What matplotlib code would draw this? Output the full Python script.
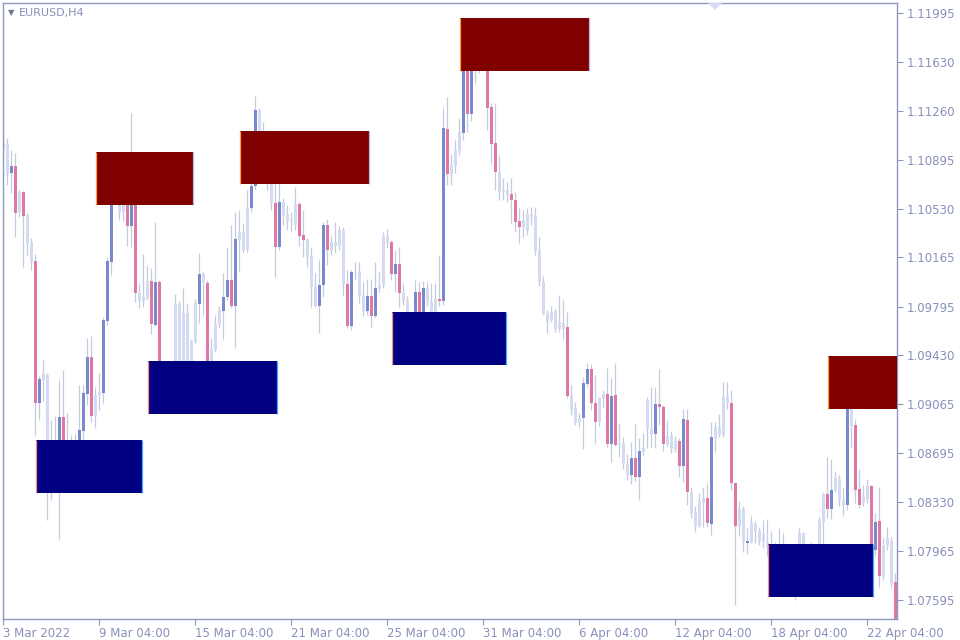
import matplotlib
matplotlib.use("Agg")
import matplotlib.pyplot as plt
import numpy as np
from matplotlib.patches import Rectangle

# EURUSD H4 candles (oldest first)
opens = [
    1.10978, 1.11015, 1.10798, 1.10850, 1.10498, 1.10655, 1.10483, 1.10280, 1.10138, 1.09073,
    1.09245, 1.09283, 1.08683, 1.08608, 1.08683, 1.08968, 1.08683, 1.08758, 1.08683, 1.08735,
    1.08863, 1.09140, 1.09418, 1.08975, 1.09133, 1.09148, 1.09688, 1.10130, 1.10633, 1.10745,
    1.10505, 1.10670, 1.10400, 1.10783, 1.09898, 1.09838, 1.09860, 1.09988, 1.09658, 1.09980,
    1.09335, 1.09208, 1.09260, 1.09305, 1.09815, 1.09358, 1.09748, 1.09335, 1.09530, 1.09815,
    1.10040, 1.09973, 1.09335, 1.09470, 1.09665, 1.09763, 1.09868, 1.09995, 1.09800, 1.10295,
    1.10355, 1.10220, 1.10535, 1.10700, 1.11270, 1.11045, 1.10858, 1.10783, 1.10573, 1.10243,
    1.10580, 1.10490, 1.10438, 1.10408, 1.10565, 1.10333, 1.10303, 1.10175, 1.09943, 1.09800,
    1.09958, 1.10408, 1.10220, 1.10280, 1.10250, 1.10370, 1.09965, 1.09650, 1.10055, 1.10055,
    1.09883, 1.09763, 1.09875, 1.09725, 1.09928, 1.09958, 1.10318, 1.10280, 1.10040, 1.10115,
    1.09898, 1.09838, 1.09710, 1.09680, 1.09905, 1.09695, 1.09935, 1.09830, 1.09710, 1.09853,
    1.09838, 1.11128, 1.10790, 1.10850, 1.10963, 1.11098, 1.11758, 1.11240, 1.11720, 1.11645,
    1.11660, 1.11630, 1.11293, 1.11023, 1.10805, 1.10655, 1.10670, 1.10640, 1.10595, 1.10438,
    1.10393, 1.10370, 1.10490, 1.10475, 1.10220, 1.09980, 1.09740, 1.09695, 1.09763, 1.09628,
    1.09673, 1.09643, 1.09133, 1.09035, 1.08930, 1.08960, 1.09215, 1.09328, 1.09073, 1.08930,
    1.09110, 1.09140, 1.08765, 1.09133, 1.08758, 1.08765, 1.08615, 1.08533, 1.08660, 1.08518,
    1.08705, 1.08878, 1.08878, 1.08840, 1.09065, 1.09043, 1.08765, 1.08825, 1.08728, 1.08788,
    1.08600, 1.08945, 1.08405, 1.08255, 1.08150, 1.08323, 1.08360, 1.08165, 1.08810, 1.08893,
    1.08833, 1.09118, 1.09073, 1.08473, 1.08150, 1.08278, 1.08023, 1.08030, 1.08165, 1.08113,
    1.08030, 1.08030, 1.07993, 1.07933, 1.07985, 1.07970, 1.07925, 1.07895, 1.07858, 1.07820,
    1.08098, 1.07970, 1.07925, 1.07895, 1.07955, 1.08180, 1.08390, 1.08278, 1.08420, 1.08503,
    1.08353, 1.08308, 1.09155, 1.08908, 1.08428, 1.08330, 1.08353, 1.08450, 1.07970, 1.08188,
    1.07775, 1.08000, 1.08038, 1.07730,
]
highs = [
    1.11068, 1.11060, 1.10970, 1.10948, 1.10670, 1.10663, 1.10498, 1.10310, 1.10190, 1.09275,
    1.09395, 1.09298, 1.08945, 1.08975, 1.09245, 1.09320, 1.08998, 1.08833, 1.08840, 1.09208,
    1.09208, 1.09560, 1.09575, 1.09193, 1.09298, 1.09718, 1.10168, 1.10670, 1.10820, 1.10783,
    1.10708, 1.10708, 1.11248, 1.10820, 1.09973, 1.10190, 1.10100, 1.10085, 1.10430, 1.09995,
    1.09380, 1.09335, 1.09365, 1.09890, 1.09838, 1.09935, 1.09823, 1.09553, 1.09853, 1.10198,
    1.10055, 1.09995, 1.09560, 1.09733, 1.09800, 1.10048, 1.10243, 1.10408, 1.10505, 1.10520,
    1.10423, 1.10670, 1.10783, 1.11375, 1.11285, 1.11180, 1.10970, 1.10820, 1.10745, 1.10760,
    1.10610, 1.10558, 1.10505, 1.10693, 1.10580, 1.10520, 1.10310, 1.10243, 1.10048, 1.10145,
    1.10430, 1.10453, 1.10325, 1.10430, 1.10400, 1.10393, 1.10070, 1.10070, 1.10130, 1.10130,
    1.09980, 1.10003, 1.10003, 1.10130, 1.10055, 1.10355, 1.10378, 1.10295, 1.10220, 1.10243,
    1.09973, 1.09875, 1.09740, 1.09995, 1.09980, 1.09988, 1.09980, 1.09973, 1.09973, 1.10183,
    1.11285, 1.11368, 1.10940, 1.11045, 1.11210, 1.11810, 1.11810, 1.11833, 1.11870, 1.11795,
    1.11758, 1.11720, 1.11323, 1.11323, 1.10933, 1.10760, 1.10730, 1.10760, 1.10655, 1.10535,
    1.10520, 1.10535, 1.10543, 1.10543, 1.10318, 1.10025, 1.09770, 1.09800, 1.09778, 1.09883,
    1.09845, 1.09755, 1.09208, 1.09080, 1.08998, 1.09268, 1.09373, 1.09365, 1.09283, 1.09118,
    1.09170, 1.09335, 1.09260, 1.09373, 1.08915, 1.08818, 1.08690, 1.08780, 1.08915, 1.08810,
    1.08848, 1.09118, 1.09193, 1.09193, 1.09328, 1.09058, 1.08945, 1.08863, 1.08825, 1.08810,
    1.09028, 1.09028, 1.08443, 1.08300, 1.08398, 1.08443, 1.08473, 1.08930, 1.08930, 1.08990,
    1.09230, 1.09230, 1.09170, 1.08480, 1.08338, 1.08300, 1.08135, 1.08225, 1.08188, 1.08143,
    1.08195, 1.08203, 1.08113, 1.08030, 1.08135, 1.08098, 1.08008, 1.07985, 1.07955, 1.08135,
    1.08105, 1.08008, 1.08030, 1.07985, 1.08218, 1.08405, 1.08668, 1.08653, 1.08563, 1.08533,
    1.08435, 1.09283, 1.09305, 1.08953, 1.08578, 1.08458, 1.08503, 1.08458, 1.08248, 1.08443,
    1.08060, 1.08143, 1.08068, 1.07798,
]
lows = [
    1.10903, 1.10708, 1.10648, 1.10318, 1.10468, 1.10093, 1.10183, 1.10070, 1.08833, 1.08945,
    1.09088, 1.08195, 1.08345, 1.08495, 1.08053, 1.08570, 1.08533, 1.08510, 1.08570, 1.08683,
    1.08758, 1.09058, 1.08930, 1.08885, 1.09020, 1.09073, 1.09658, 1.10033, 1.10595, 1.10445,
    1.10438, 1.10250, 1.10243, 1.09830, 1.09785, 1.09793, 1.09845, 1.09590, 1.09650, 1.09305,
    1.09133, 1.09095, 1.09170, 1.09260, 1.09305, 1.09283, 1.09275, 1.09305, 1.09523, 1.09673,
    1.09733, 1.09283, 1.09290, 1.09455, 1.09635, 1.09553, 1.09845, 1.09785, 1.09485, 1.10055,
    1.10205, 1.10205, 1.10505, 1.10670, 1.10895, 1.10783, 1.10670, 1.10520, 1.10018, 1.10220,
    1.10408, 1.10370, 1.10355, 1.10370, 1.10250, 1.10168, 1.10093, 1.09793, 1.09793, 1.09598,
    1.09868, 1.10108, 1.10183, 1.10198, 1.10220, 1.09875, 1.09635, 1.09620, 1.09995, 1.09823,
    1.09725, 1.09733, 1.09643, 1.09710, 1.09905, 1.09935, 1.10235, 1.09995, 1.09905, 1.09793,
    1.09808, 1.09658, 1.09620, 1.09650, 1.09635, 1.09665, 1.09800, 1.09680, 1.09680, 1.09800,
    1.09808, 1.10708, 1.10708, 1.10798, 1.10933, 1.11045, 1.11105, 1.11188, 1.11473, 1.11548,
    1.11585, 1.11120, 1.10865, 1.10670, 1.10595, 1.10595, 1.10580, 1.10423, 1.10355, 1.10273,
    1.10318, 1.10333, 1.10408, 1.10183, 1.09950, 1.09733, 1.09598, 1.09680, 1.09605, 1.09605,
    1.09553, 1.09110, 1.08983, 1.08908, 1.08893, 1.08728, 1.09193, 1.09020, 1.08773, 1.08900,
    1.09035, 1.08743, 1.08630, 1.08750, 1.08668, 1.08578, 1.08495, 1.08465, 1.08488, 1.08345,
    1.08683, 1.08735, 1.08743, 1.08735, 1.08908, 1.08713, 1.08750, 1.08698, 1.08705, 1.08518,
    1.08480, 1.08308, 1.08210, 1.08105, 1.08143, 1.08143, 1.08143, 1.08083, 1.08705, 1.08818,
    1.08818, 1.09028, 1.08420, 1.07558, 1.08075, 1.07955, 1.07940, 1.08023, 1.08023, 1.08008,
    1.07985, 1.07925, 1.07858, 1.07820, 1.07895, 1.07835, 1.07783, 1.07745, 1.07595, 1.07783,
    1.07910, 1.07858, 1.07820, 1.07850, 1.07925, 1.08015, 1.08210, 1.08203, 1.08405, 1.08300,
    1.08225, 1.08270, 1.08743, 1.08323, 1.08285, 1.08300, 1.08323, 1.07895, 1.07925, 1.07693,
    1.07745, 1.07970, 1.07685, 1.07370,
]
closes = [
    1.11015, 1.10798, 1.10850, 1.10498, 1.10655, 1.10475, 1.10273, 1.10130, 1.09073, 1.09253,
    1.09290, 1.08683, 1.08608, 1.08720, 1.08968, 1.08683, 1.08758, 1.08683, 1.08735, 1.08870,
    1.09148, 1.09418, 1.08975, 1.09133, 1.09155, 1.09695, 1.10138, 1.10633, 1.10745, 1.10505,
    1.10670, 1.10400, 1.10783, 1.09898, 1.09838, 1.09868, 1.09988, 1.09665, 1.09980, 1.09335,
    1.09208, 1.09260, 1.09305, 1.09815, 1.09358, 1.09748, 1.09335, 1.09538, 1.09823, 1.10040,
    1.09973, 1.09320, 1.09478, 1.09665, 1.09770, 1.09868, 1.09995, 1.09800, 1.10303, 1.10355,
    1.10220, 1.10535, 1.10700, 1.11270, 1.11045, 1.10858, 1.10745, 1.10573, 1.10243, 1.10580,
    1.10483, 1.10438, 1.10445, 1.10565, 1.10325, 1.10295, 1.10168, 1.09943, 1.09800, 1.09958,
    1.10408, 1.10220, 1.10280, 1.10250, 1.10370, 1.09958, 1.09650, 1.10055, 1.10048, 1.09875,
    1.09763, 1.09875, 1.09725, 1.09935, 1.09950, 1.10325, 1.10273, 1.10040, 1.10115, 1.09898,
    1.09838, 1.09710, 1.09680, 1.09905, 1.09695, 1.09935, 1.09830, 1.09710, 1.09853, 1.09838,
    1.11135, 1.10790, 1.10858, 1.10970, 1.11105, 1.11758, 1.11240, 1.11720, 1.11645, 1.11660,
    1.11630, 1.11285, 1.11015, 1.10805, 1.10655, 1.10670, 1.10633, 1.10595, 1.10430, 1.10393,
    1.10445, 1.10490, 1.10468, 1.10213, 1.09980, 1.09740, 1.09680, 1.09755, 1.09628, 1.09680,
    1.09628, 1.09125, 1.09020, 1.08923, 1.08960, 1.09223, 1.09328, 1.09073, 1.08930, 1.09110,
    1.09140, 1.08765, 1.09125, 1.08758, 1.08765, 1.08615, 1.08533, 1.08660, 1.08518, 1.08713,
    1.08735, 1.09095, 1.08840, 1.09065, 1.09043, 1.08765, 1.08825, 1.08728, 1.08788, 1.08600,
    1.08953, 1.08405, 1.08248, 1.08150, 1.08330, 1.08360, 1.08173, 1.08818, 1.08893, 1.08833,
    1.09118, 1.09073, 1.08473, 1.08150, 1.08278, 1.08030, 1.08038, 1.08173, 1.08113, 1.08030,
    1.08090, 1.07993, 1.07933, 1.07985, 1.07970, 1.07925, 1.07895, 1.07858, 1.07820, 1.08098,
    1.07970, 1.07925, 1.07895, 1.07955, 1.08195, 1.08390, 1.08278, 1.08420, 1.08510, 1.08345,
    1.08308, 1.09155, 1.08900, 1.08420, 1.08308, 1.08368, 1.08450, 1.07970, 1.08180, 1.07775,
    1.08000, 1.08060, 1.07715, 1.07408,
]
# n = plain candle, b = highlighted bull, r = highlighted bear
candle_kind = (
    "nnbrnrnnrb" "nnnnbrnnnb" "bbrnnbbbnn" "nrbrnnnrbr" "nnnnnnnnnb"
    "nrnnnbbrbn" "nnbbnnnnrb" "nnnnrrnnnb" "brnnnnrbnn" "nbrbnnnrbr"
    "nnnbrbnnnr" "brnnnbrbnn" "nrrrnnnrrr" "nnnnnnnnnn" "nrnnnbbrrn"
    "nrbrnnnbrb" "nnnbrrnnnr" "brnnnnrbnn" "nnrrnnbnnn" "nnnnnnnnnn"
    "nnnnnnrbnn" "nbnrrnnrbr" "nnnr"
)

# supply / demand zones: start and end in bar numbers, price bounds
zone_start = [8.2, 23.2, 36.2, 59.2, 97.2, 114.2, 191.2, 206.2]
zone_end = [34.6, 47.4, 68.5, 91.4, 125.6, 146.4, 217.5, 240.0]
zone_top = [1.08795, 1.10955, 1.09388, 1.11113, 1.09755, 1.11960, 1.08015, 1.09425]
zone_bottom = [1.08398, 1.10558, 1.08990, 1.10715, 1.09358, 1.11563, 1.07618, 1.09028]
zone_kind = ["demand", "supply", "demand", "supply", "demand", "supply", "demand", "supply"]

price_ticks = [1.07595, 1.07965, 1.08330, 1.08695, 1.09065, 1.09430, 1.09795,
               1.10165, 1.10530, 1.10895, 1.11260, 1.11630, 1.11995]
date_tick_bars = [0, 24, 48, 72, 96, 120, 144, 168, 192, 216]
date_labels = ["3 Mar 2022", "9 Mar 04:00", "15 Mar 04:00", "21 Mar 04:00", "25 Mar 04:00",
               "31 Mar 04:00", "6 Apr 04:00", "12 Apr 04:00", "18 Apr 04:00", "22 Apr 04:00"]

AXIS_COL = "#8f96c0"
TEXT_COL = "#8890bc"
body_col = {"n": "#d3daf2", "b": "#7a89cf", "r": "#de77a4"}
WICK_COL = "#c6cadf"
zone_fill = {"supply": "#800000", "demand": "#000080"}
zone_left_edge = {"supply": "#ffa030", "demand": "#ff8a80"}
zone_right_edge = {"supply": "#b4b4e6", "demand": "#4da3ff"}

o = np.array(opens)
h = np.array(highs)
l = np.array(lows)
c = np.array(closes)
x = np.arange(len(o))

fig = plt.figure(figsize=(9.6, 6.4), dpi=100)
ax = fig.add_axes([2.5 / 960, 21 / 640, 894.5 / 960, 616.5 / 640])

# wicks
ax.vlines(x, l, h, color=WICK_COL, linewidth=0.9, zorder=1)

# bodies
body_lo = np.minimum(o, c)
body_hi = np.maximum(o, c)
body_h = np.maximum(body_hi - body_lo, 0.00005)
colors = [body_col[k] for k in candle_kind]
ax.bar(x, body_h, bottom=body_lo, width=0.75, color=colors, linewidth=0, zorder=2)

# zones
for s, e, t, b, kind in zip(zone_start, zone_end, zone_top, zone_bottom, zone_kind):
    ax.add_patch(Rectangle((s, b), e - s, t - b, facecolor=zone_fill[kind],
                           edgecolor="none", zorder=3))
    ax.vlines(s, b, t, color=zone_left_edge[kind], linewidth=0.9, zorder=4)
    ax.vlines(e, b, t, color=zone_right_edge[kind], linewidth=0.9, zorder=4)

# little shift marker at the top
ax.plot([177.9], [1.12076], marker="D", markersize=7, color="#d4dbf3",
        markeredgewidth=0, zorder=5)

ax.set_xlim(-0.2, 223.4)
ax.set_ylim(1.074525, 1.12076)

ax.yaxis.tick_right()
ax.set_yticks(price_ticks)
ax.set_yticklabels(["%.5f" % p for p in price_ticks])
ax.set_xticks(date_tick_bars)
ax.set_xticklabels(date_labels, ha="left")
ax.tick_params(axis="both", colors=AXIS_COL, labelcolor=TEXT_COL, labelsize=8.5,
               length=4, width=0.8, direction="out")
ax.tick_params(axis="y", pad=3)
ax.tick_params(axis="x", pad=2)
for lab in ax.get_xticklabels():
    lab.set_horizontalalignment("left")
for sp in ax.spines.values():
    sp.set_color(AXIS_COL)
    sp.set_linewidth(1.0)

fig.text(8 / 960, 1 - 13 / 640, "\u25bc", fontsize=6, color="#6f7690",
         ha="left", va="center")
fig.text(19 / 960, 1 - 13 / 640, "EURUSD,H4", fontsize=8, color=TEXT_COL,
         ha="left", va="center")

fig.savefig("out.png", dpi=100, facecolor="white")
